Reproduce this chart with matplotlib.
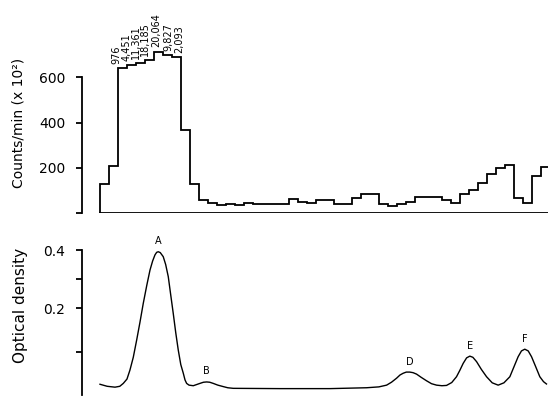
import matplotlib
matplotlib.use("Agg")
import matplotlib.pyplot as plt
import numpy as np

# counts/min (x 10^2) per fraction, bins 1 fraction wide
counts = [129, 210, 640, 652, 662, 677, 713, 699, 689, 369,
          129, 59, 46, 35, 42, 36, 44, 41, 41, 41,
          43, 62, 51, 47, 59, 59, 40, 40, 66, 87,
          87, 40, 30, 40, 52, 72, 72, 72, 59, 44,
          86, 103, 132, 174, 198, 213, 68, 47, 165, 205]
edges = np.arange(len(counts) + 1)

# actual counts written over the off-scale fractions
peak_bins = [2, 3, 4, 5, 6, 7, 8]
peak_labels = ["976", "4,451", "11,361", "18,185", "20,064", "9,827", "2,093"]

# optical density trace (fraction, OD)
od_x = [0.0, 0.8, 1.67, 2.2, 2.59, 3.0, 3.33, 3.7, 4.08, 4.45,
        4.81, 5.2, 5.56, 5.85, 6.11, 6.3, 6.48, 6.7, 7.03, 7.3,
        7.59, 7.85, 8.14, 8.42, 8.70, 8.98, 9.26, 9.45, 9.63, 9.9,
        10.37, 11.11, 11.5, 11.86, 12.2, 12.59, 13.1, 13.70, 14.2, 14.81,
        20.0, 25.56, 29.63, 31.0, 31.86, 32.4, 32.97, 33.35, 33.70, 34.05,
        34.44, 34.8, 35.19, 35.7, 36.30, 36.85, 37.41, 38.0, 38.52, 39.1,
        39.63, 40.0, 40.37, 40.75, 41.11, 41.45, 41.86, 42.4, 42.97, 43.6,
        44.26, 44.9, 45.56, 46.0, 46.48, 46.85, 47.22, 47.6, 47.97, 48.4,
        48.89, 49.3, 49.63]
od_y = [-0.063, -0.070, -0.073, -0.070, -0.060, -0.045, -0.014, 0.030, 0.090, 0.152,
        0.216, 0.278, 0.331, 0.362, 0.383, 0.392, 0.394, 0.391, 0.377, 0.350,
        0.308, 0.248, 0.182, 0.115, 0.055, 0.005, -0.025, -0.048, -0.060, -0.066,
        -0.068, -0.060, -0.056, -0.055, -0.056, -0.060, -0.066, -0.071, -0.075, -0.077,
        -0.078, -0.078, -0.075, -0.072, -0.066, -0.056, -0.042, -0.031, -0.025, -0.021,
        -0.021, -0.023, -0.028, -0.039, -0.051, -0.061, -0.066, -0.068, -0.067, -0.057,
        -0.037, -0.015, 0.009, 0.028, 0.034, 0.030, 0.015, -0.012, -0.037, -0.058,
        -0.066, -0.058, -0.037, -0.004, 0.032, 0.052, 0.058, 0.052, 0.032, 0.000,
        -0.037, -0.054, -0.062]

peak_names = ["A", "B", "D", "E", "F"]
peak_x = [6.48, 11.86, 34.44, 41.11, 47.22]
peak_y = [0.394, -0.055, -0.021, 0.034, 0.058]

fig = plt.figure(figsize=(5.48, 3.98), dpi=100)
W, H = 548, 398

def px_axes(x0, x1, ytop, ybot):
    return fig.add_axes([x0 / W, (H - ybot) / H, (x1 - x0) / W, (ybot - ytop) / H])

xlim = (-2.0, 49.8)
lw = 1.3

# upper panel: counts
ax1 = px_axes(82, 548, 41, 213.3)
ax1.stairs(counts, edges, baseline=0, color="black", lw=lw)
ax1.plot([edges[0], edges[-1]], [0, 0], color="black", lw=lw)
label_dx = [-0.15, -0.05, 0.0, 0.05, 0.25, 0.6, 0.8]
for b, lab, dx in zip(peak_bins, peak_labels, label_dx):
    ax1.annotate(lab, (b + dx, counts[b]), xytext=(0, 3), textcoords="offset points",
                 rotation=90, ha="center", va="bottom", fontsize=7, annotation_clip=False)
ax1.set_xlim(*xlim)
ax1.set_ylim(0, 760)
ax1.set_yticks([0, 200, 400, 600])
ax1.set_yticklabels(["", "200", "400", "600"])
ax1.set_xticks([])
for s in ["top", "right", "bottom"]:
    ax1.spines[s].set_visible(False)
ax1.spines["left"].set_bounds(0, 600)
ax1.spines["left"].set_linewidth(lw)
ax1.tick_params(axis="y", direction="out", length=4, width=lw, labelsize=10, pad=8)
ax1.set_ylabel("Counts/min (x 10²)", fontsize=10)
ax1.yaxis.set_label_coords(-0.122, 0.524)

# lower panel: optical density
ax2 = px_axes(82, 548, 235.5, 395)
ax2.plot(od_x, od_y, color="black", lw=1.0)
for name, x, y in zip(peak_names, peak_x, peak_y):
    ax2.annotate(name, (x, y), xytext=(0, 4), textcoords="offset points",
                 ha="center", va="bottom", fontsize=7)
ax2.set_xlim(*xlim)
ax2.set_ylim(-0.1, 0.45)
ax2.set_yticks([0.05, 0.2, 0.3, 0.4])
ax2.set_yticklabels(["", "0.2", "", "0.4"])
ax2.set_xticks([])
for s in ["top", "right", "bottom"]:
    ax2.spines[s].set_visible(False)
ax2.spines["left"].set_bounds(-0.1, 0.4)
ax2.spines["left"].set_linewidth(lw)
ax2.tick_params(axis="y", direction="out", length=4, width=lw, labelsize=10, pad=8)
ax2.set_ylabel("Optical density", fontsize=11)
ax2.yaxis.set_label_coords(-0.116, 0.564)

fig.savefig("out.png", dpi=100)
